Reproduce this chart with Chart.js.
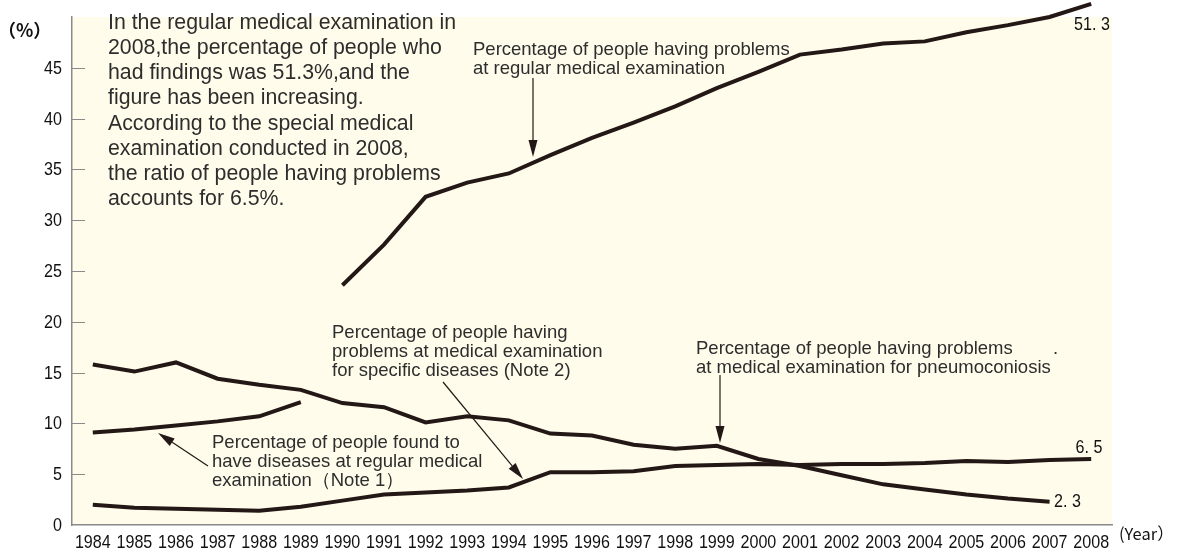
<!DOCTYPE html>
<html>
<head>
<meta charset="utf-8">
<script src="https://cdn.jsdelivr.net/npm/chart.js@4.4.1/dist/chart.umd.min.js"></script>
<style>
  html, body { margin: 0; padding: 0; background: #fff; }
  #wrap { width: 1179px; height: 556px; position: relative; }
</style>
</head>
<body>
<div id="wrap"><canvas id="chart" width="1179" height="556"></canvas></div>
<script>
const years = ['1984','1985','1986','1987','1988','1989','1990','1991','1992','1993','1994','1995','1996',
  '1997','1998','1999','2000','2001','2002','2003','2004','2005','2006','2007','2008'];

// Percentage of people having problems at regular medical examination (from 1990)
const regularProblems = [null, null, null, null, null, null,
  23.6, 27.6, 32.3, 33.7, 34.6, 36.4, 38.1, 39.6, 41.2, 43.0, 44.6, 46.3, 46.8, 47.4, 47.6, 48.5, 49.2, 50.0, 51.3];

// Percentage of people found to have diseases at regular medical examination (Note 1)
const diseasesFound = [9.1, 9.4, 9.8, 10.2, 10.7, 12.1,
  null, null, null, null, null, null, null, null, null, null, null, null, null, null, null, null, null, null, null];

// Percentage of people having problems at medical examination for pneumoconiosis
const pneumoconiosis = [15.8, 15.1, 16.0, 14.4, 13.8, 13.3, 12.0, 11.6, 10.1, 10.7, 10.3, 9.0, 8.8,
  7.9, 7.5, 7.8, 6.5, 5.8, 4.9, 4.0, 3.5, 3.0, 2.6, 2.3, null];

// Percentage of people having problems at medical examination for specific diseases (Note 2)
const specificDiseases = [2.0, 1.7, 1.6, 1.5, 1.4, 1.8, 2.4, 3.0, 3.2, 3.4, 3.7, 5.2, 5.2,
  5.3, 5.8, 5.9, 6.0, 5.9, 6.0, 6.0, 6.1, 6.3, 6.2, 6.4, 6.5];

const yTicks = [0, 5, 10, 15, 20, 25, 30, 35, 40, 45];

const INK = '#231815';
const TEXT = '#2d2d2d';
const AXIS = '#8a8a8a';
const CREAM = '#fffceb';
const SANS = "'Liberation Sans', Arial, sans-serif";
const SQUEEZE = 0.87; // numbers in the original use a condensed face

const notes = [
  { x: 108, y: 23, gap: 25.2, size: 21.3, lines: [
    'In the regular medical examination in',
    '2008,the percentage of people who',
    'had findings was 51.3%,and the',
    'figure has been increasing.',
    'According to the special medical',
    'examination conducted in 2008,',
    'the ratio of people having problems',
    'accounts for 6.5%.'] },
  { x: 473, y: 50, gap: 18.5, size: 18.5, lines: [
    'Percentage of people having problems',
    'at regular medical examination'] },
  { x: 332, y: 333, gap: 19, size: 18.5, lines: [
    'Percentage of people having',
    'problems at medical examination',
    'for specific diseases (Note 2)'] },
  { x: 212, y: 443, gap: 19, size: 18.5, lines: [
    'Percentage of people found to',
    'have diseases at regular medical',
    'examination\uff08Note 1\uff09'] },
  { x: 696, y: 349, gap: 19, size: 18.5, lines: [
    'Percentage of people having problems',
    'at medical examination for pneumoconiosis'] },
  { x: 1053, y: 349, gap: 19, size: 18.5, lines: ['.'] }
];

const arrows = [
  { from: [533, 78], to: [533, 157] },
  { from: [443, 382], to: [523, 479] },
  { from: [208, 466], to: [158, 433] },
  { from: [720, 375], to: [720, 443] }
];

const endLabels = [
  { text: '51. 3', x: 1092, y: 25, align: 'center' },
  { text: '6. 5', x: 1089, y: 448, align: 'center' },
  { text: '2. 3', x: 1054, y: 502, align: 'left' }
];

function narrowText(ctx, text, x, y, align, size) {
  ctx.save();
  ctx.font = `${size}px ${SANS}`;
  ctx.textAlign = align;
  ctx.textBaseline = 'middle';
  ctx.translate(x, y);
  ctx.scale(SQUEEZE, 1);
  ctx.fillText(text, 0, 0);
  ctx.restore();
}

const creamArea = {
  id: 'creamArea',
  beforeDraw(chart) {
    const { ctx, chartArea: a } = chart;
    ctx.save();
    ctx.fillStyle = CREAM;
    ctx.fillRect(a.left, a.top, a.right - a.left, a.bottom - a.top);
    ctx.restore();
  }
};

// tick marks point into the plot, labels in a condensed face
const axisMarks = {
  id: 'axisMarks',
  afterDraw(chart) {
    const { ctx } = chart;
    const y = chart.scales.y, x = chart.scales.x;
    ctx.save();
    ctx.strokeStyle = AXIS;
    ctx.lineWidth = 1;
    ctx.fillStyle = '#111';
    yTicks.forEach(v => {
      const py = y.getPixelForValue(v);
      if (v !== 0) {
        ctx.beginPath();
        ctx.moveTo(y.right, Math.round(py) + 0.5);
        ctx.lineTo(y.right + 13, Math.round(py) + 0.5);
        ctx.stroke();
      }
      narrowText(ctx, String(v), y.right - 10, py + 1, 'right', 18.5);
    });
    x.ticks.forEach((t, i) => {
      narrowText(ctx, x.getLabelForValue(t.value), x.getPixelForTick(i), 543, 'center', 18.5);
    });
    ctx.restore();
  }
};

function drawArrow(ctx, fx, fy, tx, ty) {
  const ang = Math.atan2(ty - fy, tx - fx);
  const len = 17, half = 4.5;
  const bx = tx - Math.cos(ang) * len, by = ty - Math.sin(ang) * len;
  ctx.beginPath();
  ctx.moveTo(fx, fy);
  ctx.lineTo(bx, by);
  ctx.stroke();
  ctx.beginPath();
  ctx.moveTo(tx, ty);
  ctx.lineTo(bx + Math.sin(ang) * half, by - Math.cos(ang) * half);
  ctx.lineTo(bx - Math.sin(ang) * half, by + Math.cos(ang) * half);
  ctx.closePath();
  ctx.fill();
}

const annotations = {
  id: 'annotations',
  afterDraw(chart) {
    const { ctx } = chart;
    ctx.save();
    ctx.fillStyle = TEXT;
    ctx.textBaseline = 'middle';
    ctx.textAlign = 'left';
    notes.forEach(n => {
      ctx.font = `${n.size}px ${SANS}`;
      n.lines.forEach((l, i) => ctx.fillText(l, n.x, n.y + i * n.gap));
    });

    ctx.strokeStyle = INK;
    ctx.fillStyle = INK;
    ctx.lineWidth = 1.2;
    arrows.forEach(a => drawArrow(ctx, a.from[0], a.from[1], a.to[0], a.to[1]));

    ctx.fillStyle = '#111';
    endLabels.forEach(l => narrowText(ctx, l.text, l.x, l.y, l.align, 18.5));

    ctx.textAlign = 'left';
    ctx.font = `bold 18px 'Noto Sans CJK JP', sans-serif`;
    ctx.fillText('\uff08%\uff09', -2, 30);
    ctx.font = `16.5px 'Noto Sans CJK JP', sans-serif`;
    ctx.fillText('(Year\uff09', 1119, 534);
    ctx.restore();
  }
};

const lineStyle = {
  borderColor: INK,
  borderWidth: 4,
  pointRadius: 0,
  tension: 0,
  fill: false,
  clip: false,
  spanGaps: false
};

new Chart(document.getElementById('chart'), {
  type: 'line',
  data: {
    labels: years,
    datasets: [
      { label: 'Percentage of people having problems at regular medical examination', data: regularProblems, ...lineStyle },
      { label: 'Percentage of people found to have diseases at regular medical examination (Note 1)', data: diseasesFound, ...lineStyle },
      { label: 'Percentage of people having problems at medical examination for pneumoconiosis', data: pneumoconiosis, ...lineStyle },
      { label: 'Percentage of people having problems at medical examination for specific diseases (Note 2)', data: specificDiseases, ...lineStyle }
    ]
  },
  options: {
    responsive: false,
    animation: false,
    layout: { padding: { top: 17, right: 67, left: 0, bottom: 0 } },
    plugins: { legend: { display: false }, tooltip: { enabled: false } },
    scales: {
      x: {
        offset: true,
        grid: { display: false },
        border: { display: true, color: AXIS, width: 1.5 },
        ticks: { display: false, autoSkip: false, maxRotation: 0 },
        afterFit(scale) { scale.height = 31; }
      },
      y: {
        min: 0,
        max: 50,
        grid: { display: false },
        border: { display: true, color: AXIS, width: 1.5 },
        afterBuildTicks(scale) { scale.ticks = yTicks.map(v => ({ value: v })); },
        ticks: { display: false },
        afterFit(scale) { scale.width = 72; }
      }
    }
  },
  plugins: [creamArea, axisMarks, annotations]
});
</script>
</body>
</html>
